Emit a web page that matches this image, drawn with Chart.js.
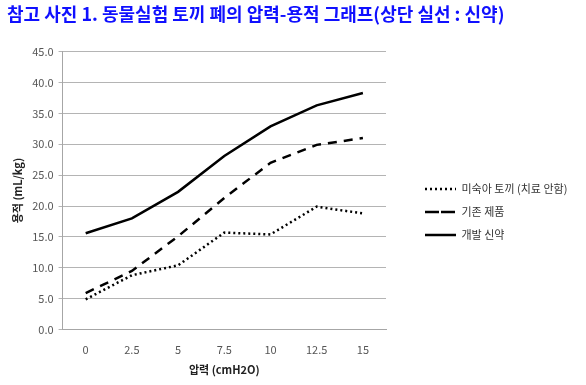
<!DOCTYPE html>
<html>
<head>
<meta charset="utf-8">
<script src="https://cdn.jsdelivr.net/npm/chart.js@4/dist/chart.umd.min.js"></script>
<style>
  html, body { margin: 0; padding: 0; background: #fff; }
  #wrap { width: 586px; height: 385px; }
</style>
</head>
<body>
<div id="wrap"><canvas id="myChart" width="586" height="385"></canvas></div>
<script>
const pressures = ['0', '2.5', '5', '7.5', '10', '12.5', '15'];
const untreated = [4.9, 8.8, 10.4, 15.7, 15.4, 19.9, 18.8];
const oldProduct = [5.9, 9.5, 15.1, 21.3, 27.0, 29.9, 31.0];
const newDrug = [15.6, 18.0, 22.3, 28.1, 32.9, 36.3, 38.3];

const KR = '"Noto Sans CJK KR", "DejaVu Sans", sans-serif';

// legend box: fixed width and pushed a bit to the right and down, like the original
const legendSpot = {
    id: 'legendSpot',
    beforeLayout(chart) {
        const lg = chart.legend;
        if (lg && !lg._patched) {
            const fit = lg.fit;
            lg.fit = function () { fit.call(this); this.width = 200; };
            lg._patched = true;
        }
    },
    afterLayout(chart) {
        chart.legend.left += 27;
        chart.legend.right += 27;
        chart.legend.top += 22;
        chart.legend.bottom += 22;
    }
};

const ctx = document.getElementById('myChart').getContext('2d');
const myChart = new Chart(ctx, {
    type: 'line',
    data: {
        labels: pressures,
        datasets: [{
            label: '미숙아 토끼 (치료 안함)',
            data: untreated,
            borderColor: '#000',
            backgroundColor: 'rgba(0,0,0,0)',
            borderWidth: 2.5,
            borderDash: [2, 3],
            pointRadius: 0,
            tension: 0
        }, {
            label: '기존 제품',
            data: oldProduct,
            borderColor: '#000',
            backgroundColor: 'rgba(0,0,0,0)',
            borderWidth: 2.5,
            borderDash: [9, 7],
            pointRadius: 0,
            tension: 0
        }, {
            label: '개발 신약',
            data: newDrug,
            borderColor: '#000',
            backgroundColor: 'rgba(0,0,0,0)',
            borderWidth: 2.5,
            pointRadius: 0,
            tension: 0
        }]
    },
    options: {
        responsive: false,
        animation: false,
        layout: { padding: { left: 7, right: 0, top: 0, bottom: 5 } },
        scales: {
            x: {
                offset: true,
                grid: { display: false },
                border: { color: '#a6a6a6' },
                ticks: { color: '#555', font: { family: KR, size: 11 }, maxRotation: 0, padding: 6 },
                title: { display: true, text: '압력 (cmH2O)', color: '#222', font: { family: KR, size: 11, weight: 'bold' }, padding: { top: 0 } }
            },
            y: {
                min: 0,
                max: 45,
                ticks: {
                    stepSize: 5,
                    color: '#555',
                    font: { family: KR, size: 11 },
                    padding: 5,
                    callback: v => v.toFixed(1)
                },
                grid: { color: '#b4b4b4', tickLength: 4 },
                border: { color: '#a6a6a6' },
                title: { display: true, text: '용적 (mL/kg)', color: '#222', font: { family: KR, size: 11, weight: 'bold' }, padding: { top: 4, bottom: 3 } }
            }
        },
        plugins: {
            title: {
                display: true,
                text: '참고 사진 1. 동물실험 토끼 폐의 압력-용적 그래프(상단 실선 : 신약)',
                align: 'start',
                color: '#1010ff',
                font: { family: KR, size: 18, weight: 'bold' },
                padding: { top: 3, bottom: 27 }
            },
            legend: {
                position: 'right',
                labels: {
                    color: '#333',
                    font: { family: KR, size: 11 },
                    boxWidth: 31,
                    boxHeight: 0,
                    padding: 12
                }
            },
            tooltip: { enabled: false }
        }
    },
    plugins: [legendSpot]
});
</script>
</body>
</html>
